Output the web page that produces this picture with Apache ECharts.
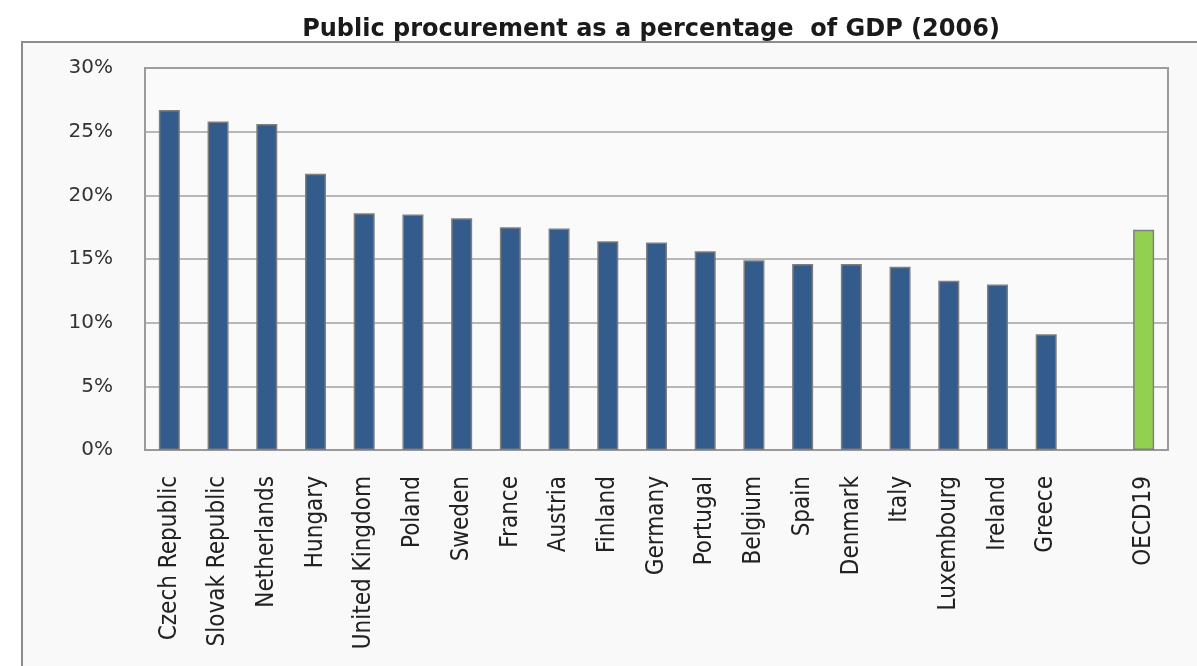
<!DOCTYPE html>
<html>
<head>
<meta charset="utf-8">
<script src="https://cdn.jsdelivr.net/npm/echarts@6/dist/echarts.min.js"></script>
<style>
html,body{margin:0;padding:0;background:#ffffff;}
#chart{width:1197px;height:666px;}
</style>
</head>
<body>
<div id="chart"></div>
<script>
const titleText = 'Public procurement as a percentage  of GDP (2006)';
const categories = ['Czech Republic','Slovak Republic','Netherlands','Hungary','United Kingdom','Poland','Sweden','France','Austria','Finland','Germany','Portugal','Belgium','Spain','Denmark','Italy','Luxembourg','Ireland','Greece','','OECD19'];
const countryValues = [26.7,25.8,25.6,21.7,18.6,18.5,18.2,17.5,17.4,16.4,16.3,15.6,14.9,14.6,14.6,14.4,13.3,13.0,9.1,null,null];
const oecdValues = [null,null,null,null,null,null,null,null,null,null,null,null,null,null,null,null,null,null,null,null,17.3];
const yTicks = [0,5,10,15,20,25,30];

const chart = echarts.init(document.getElementById('chart'));
chart.setOption({
  animation:false,
  backgroundColor:'#ffffff',
  graphic:[{
    type:'rect', z:-10, silent:true,
    shape:{x:22,y:42,width:1200,height:700},
    style:{fill:'#f9f9f9',stroke:'#8c8c8c',lineWidth:2}
  }],
  title:{
    text:titleText, left:646, textAlign:'center', top:13,
    textStyle:{fontFamily:'DejaVu Sans',fontWeight:'bold',fontSize:24,color:'#1a1a1a'}
  },
  grid:{left:145,right:29,top:68,bottom:216,show:true,borderColor:'#9a9a9a',borderWidth:2,backgroundColor:'#fafafa'},
  xAxis:{
    type:'category', data:categories,
    axisLine:{show:true,lineStyle:{color:'#9a9a9a',width:2}},
    axisTick:{show:false},
    axisLabel:{rotate:90,interval:0,margin:26,fontFamily:'Liberation Sans Narrow, Arial Narrow, DejaVu Sans Condensed, sans-serif',fontSize:24,color:'#222222'}
  },
  yAxis:{
    type:'value', min:0, max:30, interval:5,
    axisLine:{show:false}, axisTick:{show:false},
    splitLine:{show:true,lineStyle:{color:'#a0a0a0',width:1.5}},
    axisLabel:{margin:32,fontFamily:'DejaVu Sans',fontSize:20,color:'#333333',
      formatter:function(v){return yTicks.indexOf(v)>=0 ? v+'%' : '';}}
  },
  series:[
    {type:'bar',data:countryValues,barWidth:21,barGap:'-100%',
     itemStyle:{color:'#335b8c',borderColor:'#7f7f7f',borderWidth:1.5}},
    {type:'bar',data:oecdValues,barWidth:21,
     itemStyle:{color:'#92d050',borderColor:'#7f7f7f',borderWidth:1.5}}
  ]
});
</script>
</body>
</html>
